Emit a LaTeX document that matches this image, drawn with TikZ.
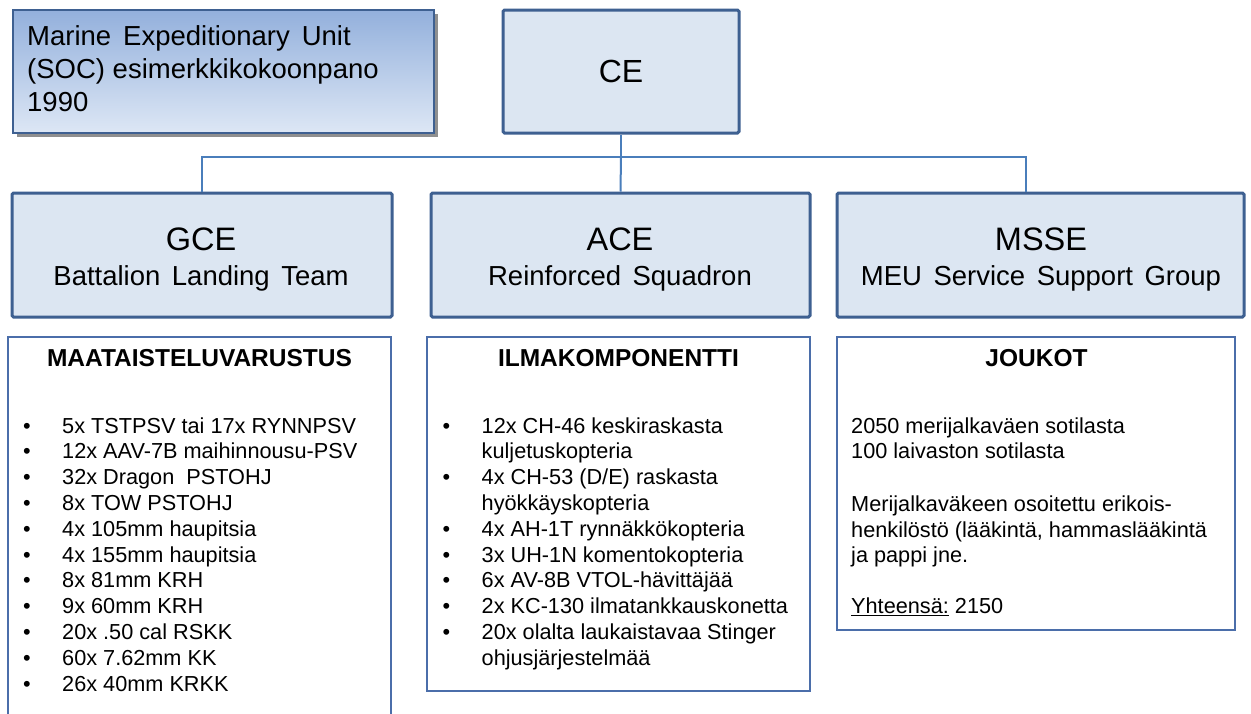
\documentclass[tikz,border=0pt]{standalone}
\usepackage{fontspec}
\setmainfont{Liberation Sans}
\usetikzlibrary{shadows}
\definecolor{boxfill}{RGB}{220,230,242}
\definecolor{boxline}{RGB}{62,96,145}
\definecolor{connc}{RGB}{74,126,187}
\definecolor{listline}{RGB}{75,110,170}
\definecolor{gradtop}{RGB}{147,176,220}
\definecolor{gradbot}{RGB}{221,231,245}
\newcommand\ws{\hspace{11.5pt}}
\newcommand\fs[2]{\fontsize{#1}{#2}\selectfont}
\newcommand\bul{\makebox[39pt][l]{\textbullet}}
\newcommand\nob{\makebox[39pt][l]{}}
\begin{document}
\begin{tikzpicture}[x=1pt,y=-1pt,
  unitbox/.style={draw=boxline,line width=3pt,fill=boxfill,rounded corners=1.5pt,inner sep=0pt},
  titlebox/.style={draw=boxline,line width=2pt,top color=gradtop,bottom color=gradbot,inner sep=0pt,
     drop shadow={shadow xshift=3.5pt,shadow yshift=-3.5pt,opacity=0.55,fill=black!80}},
  listbox/.style={draw=listline,line width=1.5pt,fill=white,inner sep=0pt},
  link/.style={draw=connc,line width=2pt},
  lbl/.style={inner sep=0pt,anchor=base},
  big/.style={font=\fs{32.5}{38}},
  sub/.style={font=\fs{27.5}{33}},
  head/.style={font=\fs{24.5}{28}\bfseries},
  item/.style={inner sep=0pt,anchor=base west,font=\fs{21.7}{25.8}},
  ]
\clip (0,0) rectangle (1251,713);
\fill[white] (0,0) rectangle (1251,713);

% title box
\node[titlebox,minimum width=421pt,minimum height=123pt] (title) at (223.5,71.5) {};
\node[inner sep=0pt,anchor=base west,font=\fs{27.5}{33}] (titletext) at (27,45)
  {\begin{tabular}[t]{@{}l@{}}Marine\hspace{12pt}Expeditionary\hspace{12pt}Unit\\(SOC) esimerkkikokoonpano\\1990\end{tabular}};

% command element
\node[unitbox,minimum width=236pt,minimum height=123pt] (CE) at (621,71.5) {};
\node[lbl,font=\fs{32}{38}] (CEt) at (621,82.7) {CE};

% elements
\node[unitbox,minimum width=380pt,minimum height=124pt] (GCE) at (202,255) {};
\node[unitbox,minimum width=379pt,minimum height=124pt] (ACE) at (620.5,255) {};
\node[unitbox,minimum width=407pt,minimum height=124pt] (MSSE) at (1040.5,255) {};

\node[lbl,big] (GCEt) at (201,250) {GCE};
\node[lbl,sub] (GCEs) at (201,285) {Battalion\ws Landing\ws Team};
\node[lbl,big] (ACEt) at (620,250) {ACE};
\node[lbl,sub] (ACEs) at (620,285) {Reinforced\ws Squadron};
\node[lbl,big] (MSSEt) at (1041,250) {MSSE};
\node[lbl,sub] (MSSEs) at (1041,285) {MEU\ws Service\ws Support\ws Group};

% connectors
\coordinate (bus) at (621,157);
\draw[link] (CE.south) -- (bus);
\draw[link] (bus) -- (ACE.north);
\draw[link] (GCE.north) |- (bus) -| ([xshift=-15pt]MSSE.north);

% list boxes
\node[listbox,minimum width=383pt,minimum height=393pt] (GCEl) at (199.5,533.5) {};
\node[listbox,minimum width=383pt,minimum height=354pt] (ACEl) at (618.5,514) {};
\node[listbox,minimum width=398pt,minimum height=293pt] (MSSEl) at (1036,483.5) {};

\node[lbl,head] (GCEh) at (199.5,366) {MAATAISTELUVARUSTUS};
\node[lbl,head] (ACEh) at (618.5,366) {ILMAKOMPONENTTI};
\node[lbl,head] (MSSEh) at (1036.5,366) {JOUKOT};

\node[item] (GCEi) at (23,433) {\begin{tabular}[t]{@{}l@{}}
\bul 5x TSTPSV tai 17x RYNNPSV\\
\bul 12x AAV-7B maihinnousu-PSV\\
\bul 32x Dragon\ \ PSTOHJ\\
\bul 8x TOW PSTOHJ\\
\bul 4x 105mm haupitsia\\
\bul 4x 155mm haupitsia\\
\bul 8x 81mm KRH\\
\bul 9x 60mm KRH\\
\bul 20x .50 cal RSKK\\
\bul 60x 7.62mm KK\\
\bul 26x 40mm KRKK
\end{tabular}};

\node[item] (ACEi) at (442.5,433) {\begin{tabular}[t]{@{}l@{}}
\bul 12x CH-46 keskiraskasta\\
\nob kuljetuskopteria\\
\bul 4x CH-53 (D/E) raskasta\\
\nob hyökkäyskopteria\\
\bul 4x AH-1T rynnäkkökopteria\\
\bul 3x UH-1N komentokopteria\\
\bul 6x AV-8B VTOL-hävittäjää\\
\bul 2x KC-130 ilmatankkauskonetta\\
\bul 20x olalta laukaistavaa Stinger\\
\nob ohjusjärjestelmää
\end{tabular}};

\node[item,font=\fs{21.7}{25.3}] (MSSEi) at (851,433) {\begin{tabular}[t]{@{}l@{}}
2050 merijalkaväen sotilasta\\
100 laivaston sotilasta\\
\\[3pt]
Merijalkaväkeen osoitettu erikois-\\
henkilöstö (lääkintä, hammaslääkintä\\
ja pappi jne.\\
\\
\underline{Yhteensä:} 2150
\end{tabular}};
\end{tikzpicture}
\end{document}
